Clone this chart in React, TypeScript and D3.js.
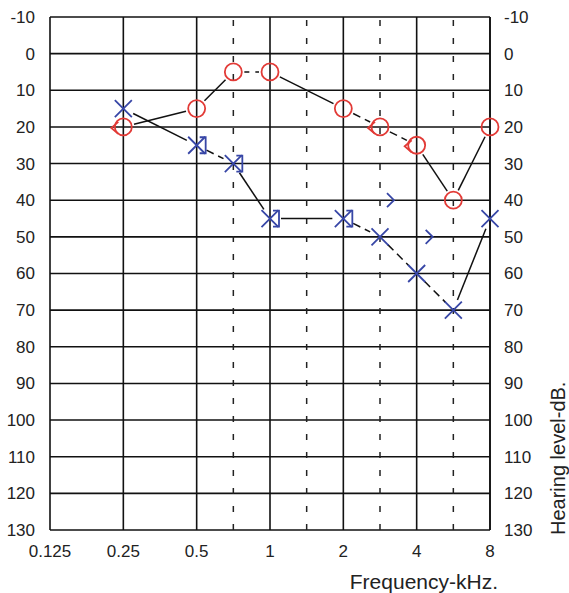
import * as d3 from "d3";

// audiogram data (kHz / dB HL)
const freqs = [0.25, 0.5, 0.75, 1, 2, 3, 4, 6, 8];
const rightAir = [20, 15, 5, 5, 15, 20, 25, 40, 20];
const leftAir = [15, 25, 30, 45, 45, 50, 60, 70, 45];
const rightBoneFreqs = [0.25, 3, 4];
const rightBone = [20, 20, 25];
const leftMaskedFreqs = [0.5, 0.75, 1, 2];
const leftMasked = [25, 30, 45, 45];
const leftBoneFreqs = [3, 4];
const leftBone = [40, 50];

const xTicks = [0.125, 0.25, 0.5, 1, 2, 4, 8];
const xTickLabels = ["0.125", "0.25", "0.5", "1", "2", "4", "8"];
const midFreqs = [0.75, 1.5, 3, 6];
const yTicks = d3.range(-10, 131, 10);

// segment styles between successive points ("" = solid)
const redDash = ["", "", "5,6", "", "8,5", "8,5", "", ""];
const blueDash = ["", "8,5", "", "", "8,5", "8,5", "8,5", ""];

const W = 569;
const H = 593;
const left = 50, right = 490, top = 17, bottom = 530;

const RED = "#e23a36";
const BLUE = "#3746a6";

export default function App() {
  const x = d3.scaleLog().base(2).domain([0.125, 8]).range([left, right]);
  const y = d3.scaleLinear().domain([-10, 130]).range([top, bottom]);
  // half-octave frequencies sit midway between octave lines on an audiogram
  const xf = (f: number) =>
    midFreqs.includes(f) ? x(Math.sqrt((f / 1.5) * (f / 0.75))) : x(f);

  const segments = (vals: number[], dashes: string[], gap: number) =>
    vals.slice(1).map((v, i) => {
      const x1 = xf(freqs[i]), y1 = y(vals[i]);
      const x2 = xf(freqs[i + 1]), y2 = y(v);
      const len = Math.hypot(x2 - x1, y2 - y1);
      const ux = (x2 - x1) / len, uy = (y2 - y1) / len;
      return (
        <line key={i}
          x1={x1 + ux * gap} y1={y1 + uy * gap}
          x2={x2 - ux * gap} y2={y2 - uy * gap}
          stroke="#111" strokeWidth={1.5}
          strokeDasharray={dashes[i] || undefined} />
      );
    });

  const font = "'Liberation Sans', Arial, sans-serif";

  return (
    <svg width={W} height={H} style={{ position: "absolute", left: 0, top: 0, background: "#fff" }}
      fontFamily={font}>
      {/* horizontal grid */}
      {yTicks.map(t => (
        <line key={"h" + t} x1={left} x2={right} y1={y(t)} y2={y(t)} stroke="#111" strokeWidth={1.6} />
      ))}
      {/* octave verticals */}
      {xTicks.map(f => (
        <line key={"v" + f} x1={x(f)} x2={x(f)} y1={top} y2={bottom} stroke="#111" strokeWidth={1.6} />
      ))}
      <line x1={right} x2={right} y1={top} y2={bottom} stroke="#111" strokeWidth={1.6} />
      {/* half-octave dashed verticals */}
      {midFreqs.map(f => (
        <line key={"m" + f} x1={xf(f)} x2={xf(f)} y1={top + 3} y2={bottom} stroke="#222"
          strokeWidth={1.5} strokeDasharray="6,12" />
      ))}

      {/* y labels */}
      {yTicks.map(t => (
        <g key={"yl" + t}>
          <text x={left - 15} y={y(t)} dy="0.35em" textAnchor="end" fontSize={17} fill="#222">{t}</text>
          <text x={right + 14} y={y(t)} dy="0.35em" textAnchor="start" fontSize={17} fill="#222">{t}</text>
        </g>
      ))}
      {/* x labels */}
      {xTicks.map((f, i) => (
        <text key={"xl" + f} x={x(f)} y={557} textAnchor="middle" fontSize={17} fill="#222">{xTickLabels[i]}</text>
      ))}
      <text x={498} y={589} textAnchor="end" fontSize={21} fill="#222">Frequency-kHz.</text>
      <text transform={`translate(565, ${bottom + 5}) rotate(-90)`} textAnchor="start" fontSize={20} fill="#222">
        Hearing level-dB.
      </text>

      {/* connecting lines */}
      {segments(rightAir, redDash, 11)}
      {segments(leftAir, blueDash, 11)}

      {/* right ear bone "<" */}
      {rightBone.map((v, i) => {
        const cx = xf(rightBoneFreqs[i]) - 6, cy = y(v) + 1;
        return (
          <path key={"rb" + i} d={`M${cx + 1},${cy - 6} L${cx - 6},${cy} L${cx + 1},${cy + 6}`}
            fill="none" stroke={RED} strokeWidth={1.8} />
        );
      })}
      {/* right ear air circles */}
      {rightAir.map((v, i) => (
        <circle key={"ra" + i} cx={xf(freqs[i])} cy={y(v)} r={8.5} fill="none" stroke={RED} strokeWidth={1.8} />
      ))}

      {/* left ear air X */}
      {leftAir.map((v, i) => {
        const cx = xf(freqs[i]), cy = y(v), s = 8.5;
        return (
          <path key={"la" + i} d={`M${cx - s},${cy - s} L${cx + s},${cy + s} M${cx - s},${cy + s} L${cx + s},${cy - s}`}
            stroke={BLUE} strokeWidth={1.8} fill="none" />
        );
      })}
      {/* left ear masked bone "]" */}
      {leftMasked.map((v, i) => {
        const cx = xf(leftMaskedFreqs[i]), cy = y(v);
        return (
          <path key={"lm" + i} d={`M${cx + 3},${cy - 8} L${cx + 9},${cy - 8} L${cx + 9},${cy + 8} L${cx + 3},${cy + 8}`}
            stroke={BLUE} strokeWidth={1.8} fill="none" />
        );
      })}
      {/* left ear bone ">" */}
      {leftBone.map((v, i) => {
        const cx = xf(leftBoneFreqs[i]) + 10 + i * 2, cy = y(v);
        return (
          <path key={"lb" + i} d={`M${cx - 3},${cy - 7} L${cx + 4},${cy} L${cx - 3},${cy + 7}`}
            stroke={BLUE} strokeWidth={1.8} fill="none" />
        );
      })}
    </svg>
  );
}
